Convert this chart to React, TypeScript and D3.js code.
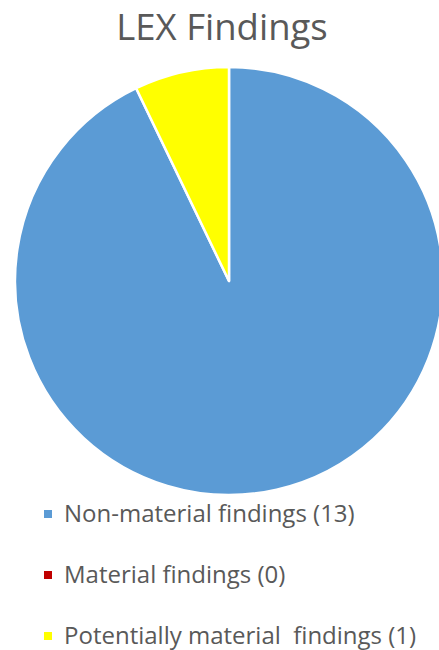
import React from "react";
import * as d3 from "d3";

const title = "LEX Findings";
const categories = ["Non-material findings", "Material findings", "Potentially material  findings"];
const values = [13, 0, 1];
const colors = ["#5B9BD5", "#C00000", "#FFFF00"];

const W = 439;
const H = 650;

export default function App() {
  const cx = 229;
  const cy = 281;
  const r = 214;
  const pie = d3.pie<number>().sort(null).startAngle(0).endAngle(2 * Math.PI);
  const arcs = pie(values);
  const arc = d3.arc<d3.PieArcDatum<number>>().innerRadius(0).outerRadius(r);
  const legendY = d3.scalePoint<number>().domain(d3.range(categories.length)).range([514, 636]);

  return (
    <svg
      width={W}
      height={H}
      style={{ position: "fixed", left: 0, top: 0, background: "#fff" }}
      fontFamily="'Open Sans', sans-serif"
    >
      <text x={222} y={40} textAnchor="middle" fontSize={36.5} fill="#595959">
        {title}
      </text>
      <g transform={`translate(${cx},${cy})`}>
        {arcs.map((a, i) =>
          a.value > 0 ? (
            <path key={i} d={arc(a) || ""} fill={colors[i]} stroke="#fff" strokeWidth={2.5} strokeLinejoin="round" />
          ) : null
        )}
      </g>
      <g>
        {categories.map((c, i) => (
          <g key={c} transform={`translate(0,${legendY(i)})`}>
            <rect x={44} y={-4} width={8} height={8} fill={colors[i]} />
            <text x={64} y={0} dy="0.35em" fontSize={24} fill="#595959" xmlSpace="preserve" style={{ whiteSpace: "pre" }}>
              {`${c} (${values[i]})`}
            </text>
          </g>
        ))}
      </g>
    </svg>
  );
}
